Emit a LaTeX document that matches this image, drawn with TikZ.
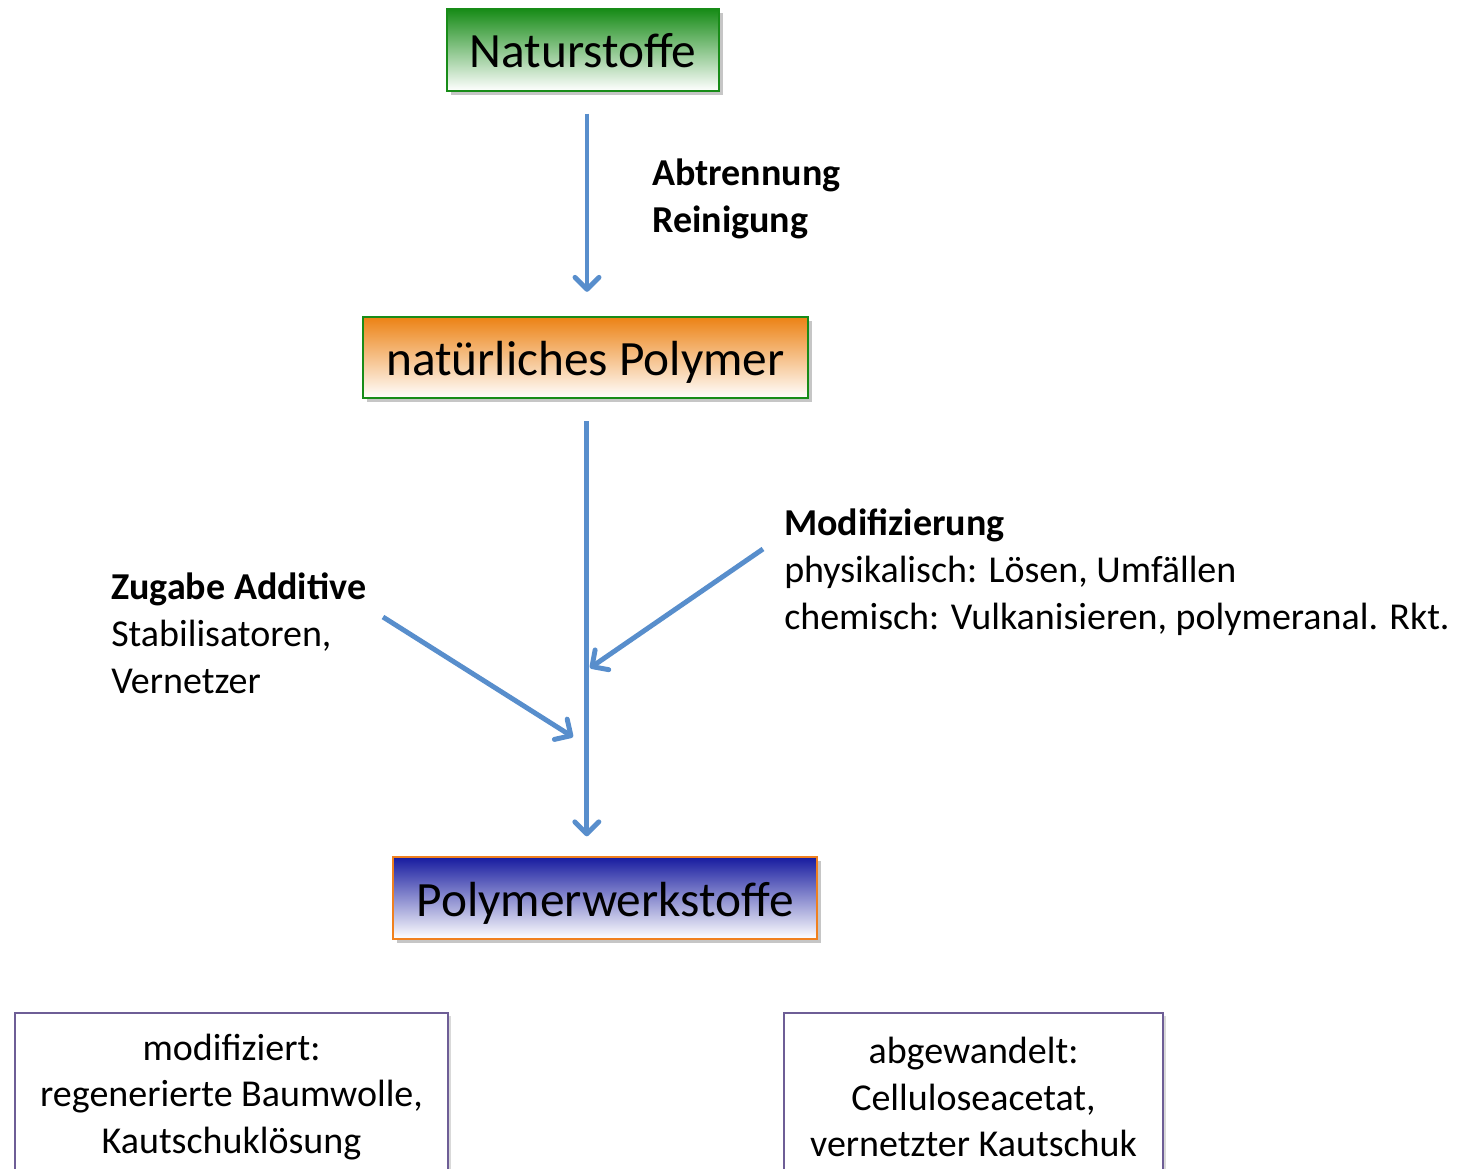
\documentclass[tikz,border=0pt]{standalone}
\usepackage{fontspec}
\setmainfont{Carlito}
\usepackage{tikz}
\usetikzlibrary{arrows.meta}
\usetikzlibrary{shadows}

\definecolor{pfeilblau}{RGB}{88,142,204}
\definecolor{gruen}{RGB}{24,140,24}
\definecolor{orangeoben}{RGB}{236,130,20}
\definecolor{rahmenorange}{RGB}{240,128,30}
\definecolor{blauoben}{RGB}{24,28,160}
\definecolor{lila}{RGB}{110,94,150}

\tikzset{
    stufe/.style={line width=1.5pt, minimum height=61pt, inner sep=0pt,
        text height=27pt, text depth=0pt,
        font=\fontsize{37}{44}\selectfont,
        drop shadow={shadow xshift=3pt, shadow yshift=-3pt, opacity=0.45}},
    ergebnis/.style={draw=lila, line width=1.1pt, fill=white, align=center,
        minimum height=126pt, inner sep=0pt,
        font=\fontsize{28.5}{35}\selectfont,
        drop shadow={shadow xshift=2pt, shadow yshift=-2pt, opacity=0.3}},
    notiz/.style={align=left, inner sep=0pt, font=\fontsize{28.5}{35.25}\selectfont},
    pfeil/.style={draw=pfeilblau, line width=3.7pt,
        -{Straight Barb[length=9pt, width=18pt, round]}}}

\begin{document}
\begin{tikzpicture}[x=0.75pt, y=-0.75pt]

    \useasboundingbox (0,0) rectangle (1465,1169);

    % Stufen
    \node[stufe, draw=gruen, top color=gruen, bottom color=white, minimum width=204pt] (Natur) at (583,50) {Naturstoffe};
    \node[stufe, draw=gruen, top color=orangeoben, bottom color=white, minimum width=334pt] (Poly) at (585.5,357.5) {natürliches Polymer};
    \node[stufe, draw=rahmenorange, top color=blauoben, bottom color=white, minimum width=318pt] (Werk) at (605,898) {Polymerwerkstoffe};

    % Beispiele
    \node[ergebnis, minimum width=325pt] (Modi) at (231.5,1097) {modifiziert:\\regenerierte Baumwolle,\\Kautschuklösung};
    \node[ergebnis, minimum width=284pt] (Abge) at (973.5,1097) {abgewandelt:\\Celluloseacetat,\\vernetzter Kautschuk};

    % Beschriftungen
    \node[notiz, anchor=west] (Trenn) at (652,199) {\textbf{Abtrennung}\\\textbf{Reinigung}};
    \node[notiz, anchor=west] (Zugabe) at (111,633) {\textbf{Zugabe Additive}\\Stabilisatoren,\\Vernetzer};
    \node[notiz, anchor=west] (Modif) at (784,572) {\textbf{Modifizierung}\\physikalisch: Lösen, Umfällen\\chemisch: Vulkanisieren, polymeranal. Rkt.};

    \coordinate (zstart) at (383,617);
    \coordinate (zende) at (573,737);
    \coordinate (mstart) at (763,549);
    \coordinate (mende) at (590,668);

    \draw[pfeil, shorten <=16.5pt, shorten >=18pt] ([xshift=3pt]Natur.south) -- ([xshift=3pt]Natur.south |- Poly.north);
    \draw[pfeil, shorten <=16.5pt, shorten >=15pt] ([xshift=1pt]Poly.south) -- ([xshift=1pt]Poly.south |- Werk.north);
    \draw[pfeil] (zstart) -- (zende);
    \draw[pfeil] (mstart) -- (mende);

\end{tikzpicture}
\end{document}
